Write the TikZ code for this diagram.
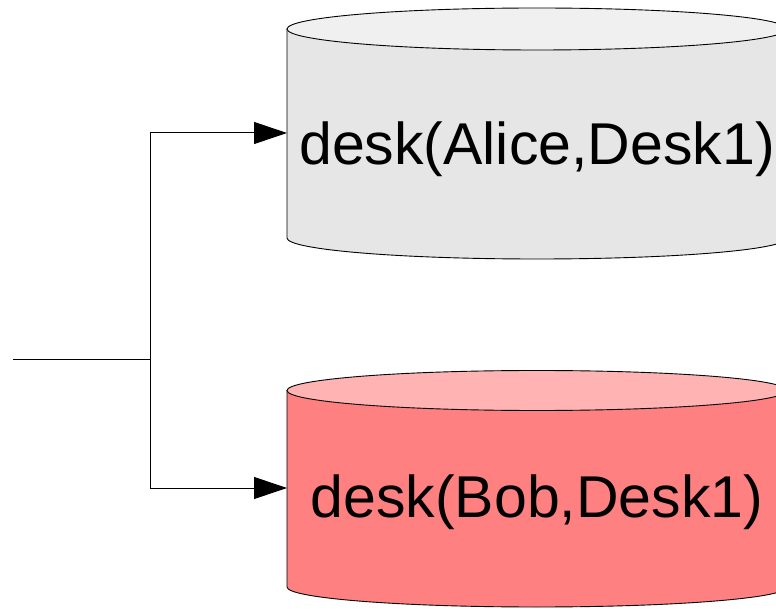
\documentclass[tikz,border=0pt]{standalone}
\usepackage{fontspec}
\setmainfont{Liberation Sans}
\usetikzlibrary{arrows.meta}

\definecolor{greyside}{RGB}{230,230,230}
\definecolor{greytop}{RGB}{240,240,240}
\definecolor{redside}{RGB}{255,128,128}
\definecolor{redtop}{RGB}{255,179,179}

\tikzset{
  drumline/.style={draw=black, line width=0.9pt},
  factlabel/.style={font=\fontsize{59}{62}\selectfont, inner sep=0pt, anchor=base},
  wire/.style={draw=black, line width=1pt},
  link/.style={wire, -{Triangle[length=33pt,width=22pt]}},
}

% database drum: #1 centre x, #2 top-rim y, #3 bottom-rim y, #4 x radius, #5 y radius, #6 side colour, #7 top colour
\newcommand\drawdrum[7]{%
  \path[drumline, fill=#6]
    ({#1-#4},#2) -- ({#1-#4},#3)
    arc[start angle=180, end angle=360, x radius=#4pt, y radius=#5pt]
    -- ({#1+#4},#2) -- cycle;
  \path[drumline, fill=#7] (#1,#2) ellipse[x radius=#4pt, y radius=#5pt];
}

\begin{document}
\begin{tikzpicture}[x=1pt, y=1pt]
  \useasboundingbox (0,0) rectangle (776,608);
  \clip (0,0) rectangle (776,608);
  \fill[white] (0,0) rectangle (776,608);

  % the two stored facts
  \drawdrum{537}{579}{370}{250}{21}{greyside}{greytop}
  \drawdrum{537}{217.5}{21}{250}{20}{redside}{redtop}

  \node[factlabel] (alice) at (537,443) {desk(Alice,Desk1)};
  \node[factlabel] (bob)   at (537,91)  {desk(Bob,Desk1)};

  % ports on the left side of each drum
  \coordinate (aliceIn) at (287,475);
  \coordinate (bobIn)   at (287,120);

  % incoming fork
  \coordinate (source) at (13,248);
  \coordinate (fork)   at (150,248);
  \draw[wire] (source) -- (fork);
  \draw[link] (fork) |- (aliceIn);
  \draw[link] (fork) |- (bobIn);
\end{tikzpicture}
\end{document}
